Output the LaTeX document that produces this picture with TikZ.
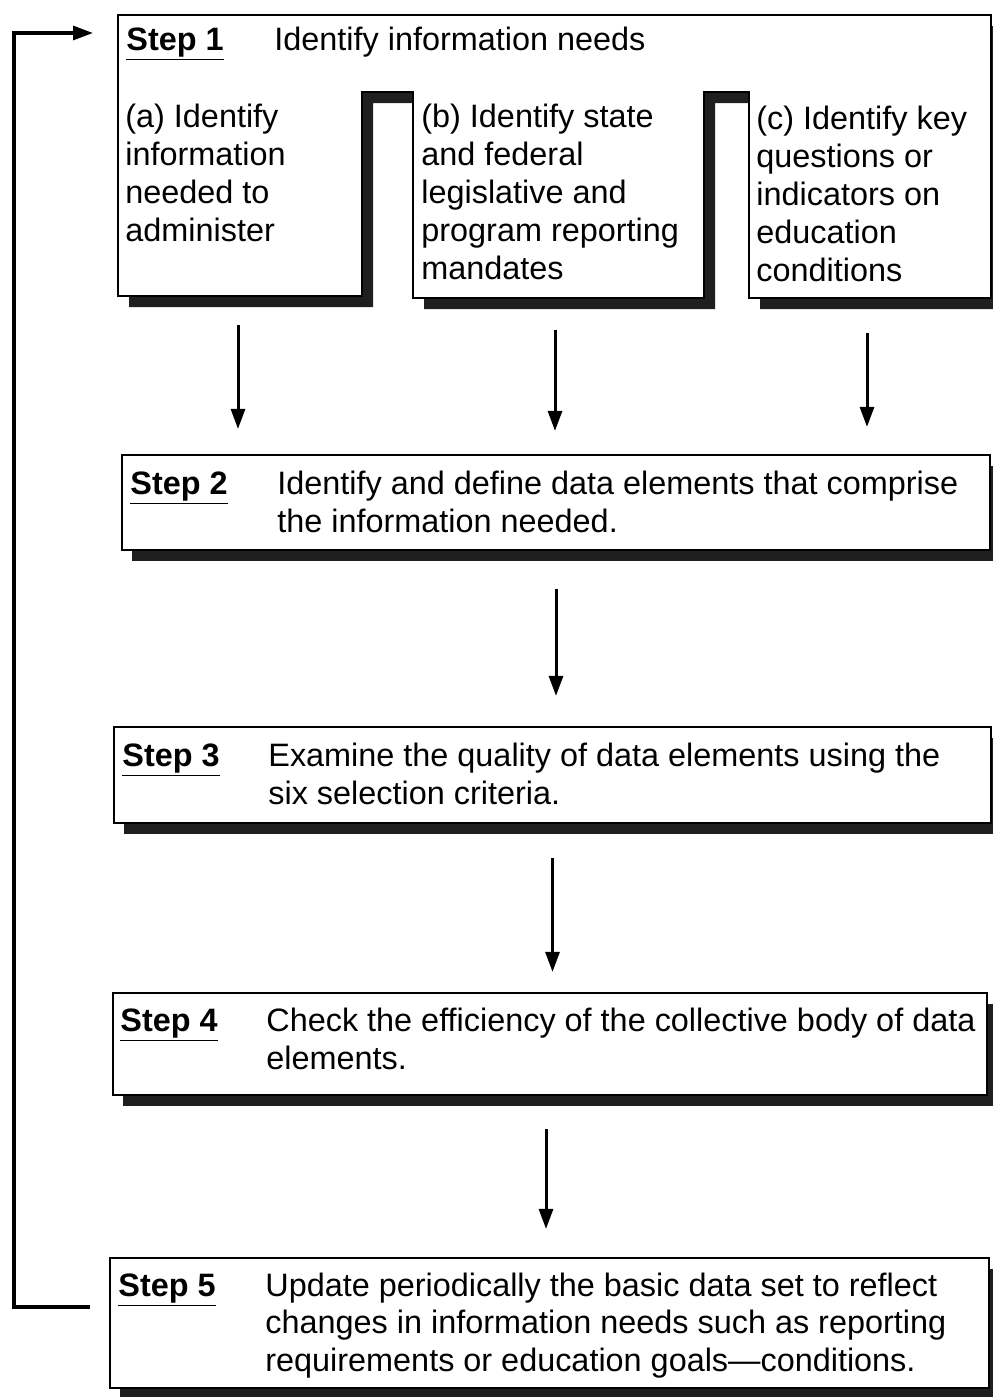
\documentclass[tikz,border=0pt]{standalone}
\usepackage{fontspec}
\setmainfont{Liberation Sans}
\usetikzlibrary{arrows.meta,shadows}
\begin{document}
\begin{tikzpicture}[x=0.5pt,y=-0.5pt,
  box/.style={draw, line width=1.1pt, fill=white, inner sep=0pt,
    drop shadow={opacity=1, fill=black!88, shadow xshift=5pt, shadow yshift=-5.5pt}},
  shadowfill/.style={fill=black!88},
  outline/.style={draw, line width=1.1pt, fill=white},
  arr/.style={line width=1.5pt, -{Triangle[length=10pt,width=7pt]}},
  txt/.style={anchor=base west, inner sep=0pt, align=left, font=\fontsize{16.2}{19}\selectfont},
  stxt/.style={anchor=base west, inner sep=0pt, align=left, font=\fontsize{16.2}{18.6}\selectfont},
  lbl/.style={anchor=base west, inner sep=0pt, font=\fontsize{16.2}{19}\selectfont\bfseries}]
\useasboundingbox (0,0) rectangle (992,1397);

% Step 1 comb-shaped box with its shadow
\fill[shadowfill, shift={(11,11)}] (118,15) -- (991,15) -- (991,298) -- (749,298) -- (749,92) -- (704,92) -- (704,298) -- (413,298) -- (413,92) -- (362,92) -- (362,296) -- (118,296) -- cycle;
\path[outline] (118,15) -- (991,15) -- (991,298) -- (749,298) -- (749,92) -- (704,92) -- (704,298) -- (413,298) -- (413,92) -- (362,92) -- (362,296) -- (118,296) -- cycle;
\coordinate (s1a) at (238,296);
\coordinate (s1b) at (555,298);
\coordinate (s1c) at (867,298);

% multi-line nodes are anchored at the baseline of their last line
\node[lbl] (l1) at (126,50) {\underline{Step 1}};
\node[txt] (b1) at (274,50) {Identify information needs};
\node[txt] (ta) at (125,241) {(a) Identify\\information\\needed to\\administer};
\node[txt] (tb) at (421,279) {(b) Identify state\\and federal\\legislative and\\program reporting\\mandates};
\node[txt] (tc) at (756,281) {(c) Identify key\\questions or\\indicators on\\education\\conditions};

% Steps 2-5
\node[box, minimum width=434pt, minimum height=47.5pt] (s2) at (556,502.5) {};
\node[box, minimum width=438.5pt, minimum height=48pt] (s3) at (552.5,775) {};
\node[box, minimum width=437pt, minimum height=51pt] (s4) at (550,1044) {};
\node[box, minimum width=439.5pt, minimum height=65pt] (s5) at (549.5,1323) {};

\node[lbl] (l2) at (130,494) {\underline{Step 2}};
\node[stxt] (b2) at (277,532) {Identify and define data elements that comprise\\the information needed.};
\node[lbl] (l3) at (122,766) {\underline{Step 3}};
\node[stxt] (b3) at (268,804) {Examine the quality of data elements using the\\six selection criteria.};
\node[lbl] (l4) at (120,1031) {\underline{Step 4}};
\node[stxt] (b4) at (266,1069) {Check the efficiency of the collective body of data\\elements.};
\node[lbl] (l5) at (118,1296) {\underline{Step 5}};
\node[stxt] (b5) at (265,1371) {Update periodically the basic data set to reflect\\changes in information needs such as reporting\\requirements or education goals---conditions.};

% arrows
\draw[arr, shorten <=14.5pt, shorten >=12.5pt] (s1a) -- (s1a |- s2.north);
\draw[arr, shorten <=16pt, shorten >=11.5pt] (s1b) -- (s1b |- s2.north);
\draw[arr, shorten <=17.5pt, shorten >=13.5pt] (s1c) -- (s1c |- s2.north);
\draw[arr, shorten <=19pt, shorten >=15pt] (s2.south) -- (s2.south |- s3.north);
\draw[arr, shorten <=17pt, shorten >=10pt] (s3.south) -- (s3.south |- s4.north);
\draw[arr, shorten <=16.5pt, shorten >=14pt] ([xshift=-2pt]s4.south) -- ([xshift=-2pt]s4.south |- s5.north);

% feedback loop
\coordinate (lb) at (90,1307);
\coordinate (lt) at (93,33);
\draw[arr, line width=1.6pt] (lb) -- (14,1307) |- (lt);
\end{tikzpicture}
\end{document}
